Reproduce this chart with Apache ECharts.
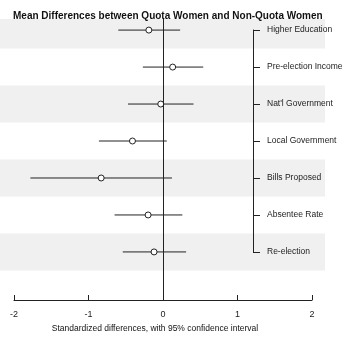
<!DOCTYPE html>
<html>
<head>
<meta charset="utf-8">
<script src="https://cdn.jsdelivr.net/npm/echarts@6/dist/echarts.min.js"></script>
<style>
  html, body { margin: 0; padding: 0; background: #fff; }
  #chart { width: 350px; height: 338px; }
</style>
</head>
<body>
<div id="chart"></div>
<script>
// rows from top to bottom
const measures = ['Higher Education', 'Pre-election Income', "Nat'l Government", 'Local Government',
  'Bills Proposed', 'Absentee Rate', 'Re-election'];
const rowIndex = [1, 2, 3, 4, 5, 6, 7];
const estimate = [-0.19, 0.13, -0.03, -0.41, -0.83, -0.20, -0.12];
const lower = [-0.60, -0.27, -0.47, -0.86, -1.78, -0.65, -0.54];
const upper = [0.23, 0.54, 0.41, 0.05, 0.12, 0.26, 0.31];
const shadedRows = [1, 3, 5, 7];
const xTicks = [-2, -1, 0, 1, 2];

const chart = echarts.init(document.getElementById('chart'));

const font = 'Liberation Sans, Arial, sans-serif';
const lineColor = '#222';

chart.setOption({
  animation: false,
  title: {
    text: 'Mean Differences between Quota Women and Non-Quota Women',
    left: 8,
    top: 6,
    textStyle: {fontFamily: font, fontSize: 10, fontWeight: 'bold', color: '#111'}
  },
  grid: [
    {left: 14, right: 38, top: 19, bottom: 38},      // data
    {left: 253, right: 2, top: 30, bottom: 86},      // label bracket
    {left: 0, right: 25, top: 19, bottom: 38}        // bands
  ],
  xAxis: [
    {
      gridIndex: 0, type: 'value', min: xTicks[0], max: xTicks[xTicks.length - 1], interval: 1,
      splitLine: {show: false},
      axisLine: {show: true, lineStyle: {color: lineColor, width: 1}},
      axisTick: {show: true, inside: true, length: 5, lineStyle: {color: lineColor}},
      axisLabel: {color: '#222', fontFamily: font, fontSize: 9, margin: 10},
      name: 'Standardized differences, with 95% confidence interval',
      nameLocation: 'middle',
      nameGap: 24,
      nameTextStyle: {color: '#111', fontFamily: font, fontSize: 8.5, padding: [0, 16, 0, 0]}
    },
    {gridIndex: 1, type: 'value', show: false},
    {gridIndex: 2, type: 'value', min: 0, max: 1, show: false}
  ],
  yAxis: [
    {gridIndex: 0, type: 'value', min: 0.7, max: 8.3, inverse: true, show: false},
    {
      gridIndex: 1, type: 'category', data: measures, inverse: true, boundaryGap: false,
      position: 'left',
      axisLine: {show: true, lineStyle: {color: lineColor, width: 1}},
      axisTick: {show: true, inside: true, length: 7, lineStyle: {color: lineColor}},
      axisLabel: {inside: true, margin: 14, color: '#222', fontFamily: font, fontSize: 8.5,
        overflow: 'none', width: 120},
      splitLine: {show: false}
    },
    {gridIndex: 2, type: 'value', min: 0.7, max: 8.3, inverse: true, show: false}
  ],
  series: [
    {
      type: 'custom',
      xAxisIndex: 2, yAxisIndex: 2,
      z: 0,
      data: shadedRows,
      renderItem: function (params, api) {
        const r = api.value(0);
        const p1 = api.coord([0, r - 0.5]);
        const p2 = api.coord([1, r + 0.5]);
        const rect = echarts.graphic.clipRectByRect(
          {x: p1[0], y: p1[1], width: p2[0] - p1[0], height: p2[1] - p1[1]},
          {x: params.coordSys.x, y: params.coordSys.y, width: params.coordSys.width, height: params.coordSys.height}
        );
        return rect && {type: 'rect', shape: rect, style: {fill: '#f0f0f0'}};
      }
    },
    {
      type: 'custom',
      xAxisIndex: 0, yAxisIndex: 0,
      z: 3,
      data: rowIndex.map((r, i) => [lower[i], upper[i], r]),
      renderItem: function (params, api) {
        const a = api.coord([api.value(0), api.value(2)]);
        const b = api.coord([api.value(1), api.value(2)]);
        return {
          type: 'line',
          shape: {x1: a[0], y1: a[1], x2: b[0], y2: b[1]},
          style: {stroke: lineColor, lineWidth: 1}
        };
      },
      markLine: {
        silent: true,
        symbol: 'none',
        label: {show: false},
        lineStyle: {color: lineColor, width: 1, type: 'solid'},
        data: [{xAxis: 0}]
      }
    },
    {
      type: 'scatter',
      xAxisIndex: 0, yAxisIndex: 0,
      z: 4,
      symbol: 'circle',
      symbolSize: 6,
      itemStyle: {color: '#fff', borderColor: lineColor, borderWidth: 1, opacity: 1},
      data: rowIndex.map((r, i) => [estimate[i], r])
    }
  ]
});
</script>
</body>
</html>
